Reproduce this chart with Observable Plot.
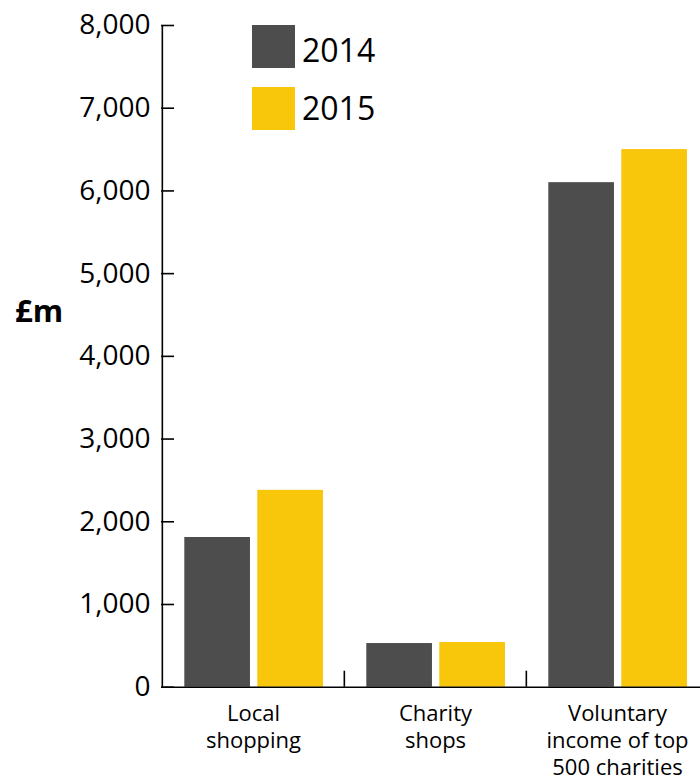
<!DOCTYPE html>
<html><head><meta charset="utf-8">
<script src="https://cdn.jsdelivr.net/npm/d3@7"></script>
<script src="https://cdn.jsdelivr.net/npm/@observablehq/plot@0.6"></script>
<style>
body{margin:0;background:#fff;font-family:"Open Sans",sans-serif;color:#000}
#wrap{position:relative;width:700px;height:780px;overflow:hidden}
.abs{position:absolute;line-height:1;white-space:nowrap}
.sw{position:absolute;width:43px;height:43px}
</style></head><body>
<div id="wrap"></div>
<script>
const categories = ["Local shopping", "Charity shops", "Voluntary income of top 500 charities"];
const categoryLabels = ["Local\nshopping", "Charity\nshops", "Voluntary\nincome of top\n500 charities"];
const years = ["2014", "2015"];
const values2014 = [1810, 528, 6100];
const values2015 = [2380, 540, 6500];
const yTicks = [0, 1000, 2000, 3000, 4000, 5000, 6000, 7000, 8000];
const colors = ["#4d4d4d", "#f8c60a"];
const yLabel = "£m";

const rows2014 = categories.map((c, i) => ({category: c, year: years[0], value: values2014[i]}));
const rows2015 = categories.map((c, i) => ({category: c, year: years[1], value: values2015[i]}));

const W = 700, H = 780, mL = 161, mR = -8, mT = 25, mB = 93.3;
const step = (W - mR - mL) / categories.length;
const plotH = H - mT - mB;

const chart = Plot.plot({
  width: W, height: H,
  marginLeft: mL, marginRight: mR, marginTop: mT, marginBottom: mB,
  style: {fontFamily: '"Open Sans", sans-serif', color: "#000", background: "#fff", overflow: "hidden"},
  x: {domain: categories, padding: 0},
  y: {domain: [0, 8000]},
  marks: [
    Plot.barY(rows2014, {x: "category", y: "value", fill: colors[0], insetLeft: 22.3, insetRight: step - 22.3 - 66}),
    Plot.barY(rows2015, {x: "category", y: "value", fill: colors[1], insetLeft: 95.3, insetRight: step - 95.3 - 66}),
    Plot.ruleX([categories[0]], {x: d => d, dx: -step / 2, stroke: "#000", strokeWidth: 1.6}),
    Plot.ruleX(categories.slice(1), {x: d => d, dx: -step / 2, insetTop: plotH - 16, stroke: "#000", strokeWidth: 1.6}),
    Plot.ruleY([0], {stroke: "#000", strokeWidth: 1.6}),
    Plot.axisY({ticks: yTicks, tickSize: -13, tickPadding: 24, tickFormat: d3.format(","), fontSize: 28, label: null, strokeWidth: 1.6, fill: "#000"}),
    Plot.axisX({tickSize: 0, tickPadding: 14, tickFormat: d => categoryLabels[categories.indexOf(d)], fontSize: 22, lineHeight: 1.24, label: null, fill: "#000"})
  ]
});

const wrap = document.getElementById("wrap");
wrap.appendChild(chart);

function addDiv(cls, style, text) {
  const d = document.createElement("div");
  d.className = cls;
  Object.assign(d.style, style);
  if (text != null) d.textContent = text;
  wrap.appendChild(d);
}
addDiv("abs", {left: "15px", top: "295px", fontSize: "31px", fontWeight: "700"}, yLabel);
addDiv("sw", {left: "252px", top: "25px", background: colors[0]});
addDiv("sw", {left: "252px", top: "87px", background: colors[1]});
addDiv("abs", {left: "302px", top: "34px", fontSize: "32px"}, years[0]);
addDiv("abs", {left: "302px", top: "92px", fontSize: "32px"}, years[1]);
</script>
</body></html>
